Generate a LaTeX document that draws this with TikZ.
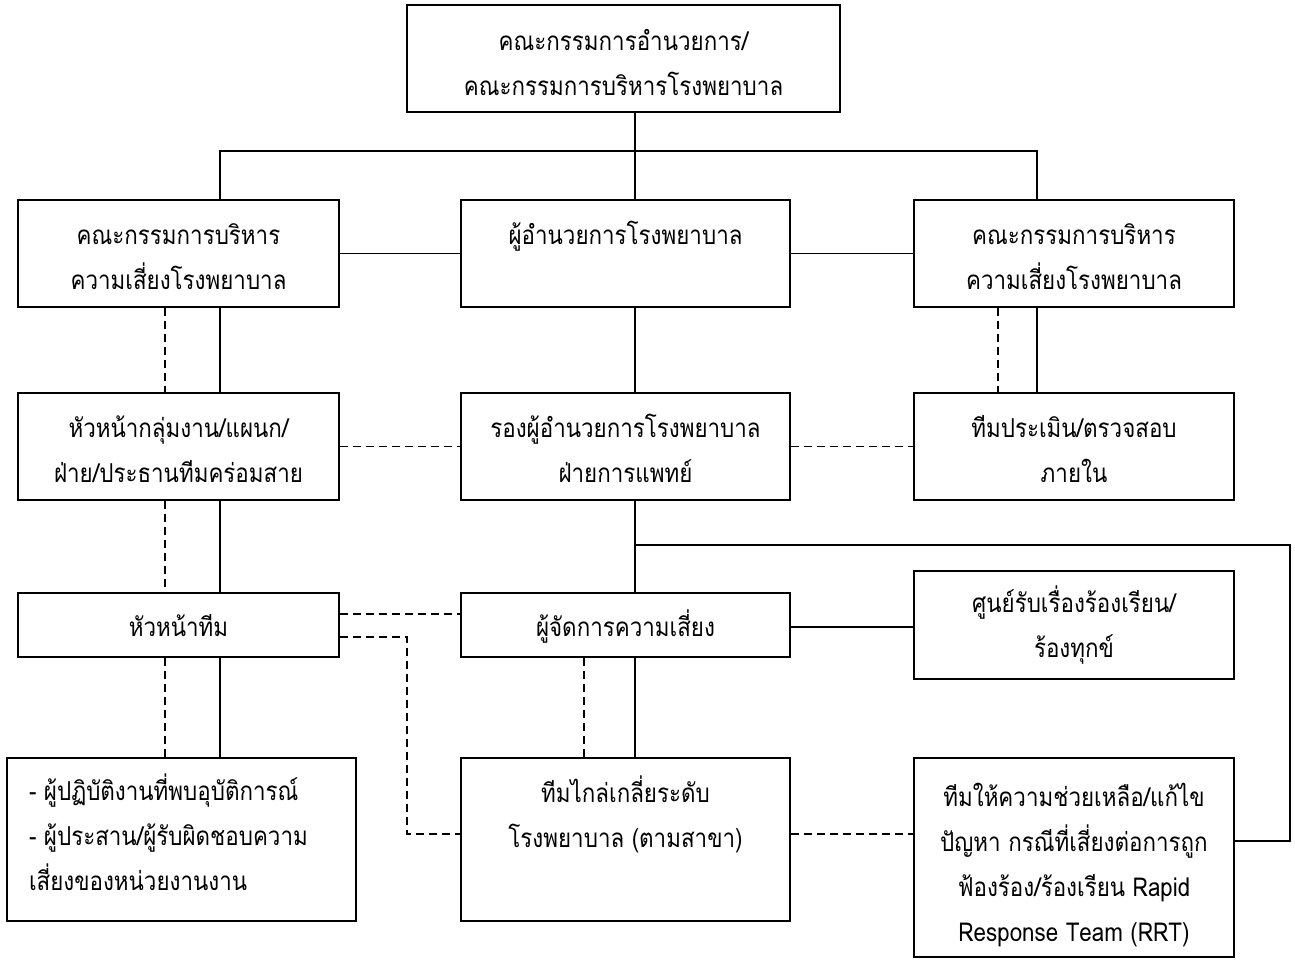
\documentclass[tikz,border=0pt]{standalone}
\usepackage{fontspec}
\newfontfamily\thaifont[Script=Thai, FakeStretch=0.86]{Loma}
\newcommand\tb[5]{\parbox[c][#1][t]{#2}{#3\rule{0pt}{#4}#5}}
\newcommand\lft{\raggedright\leftskip=22pt\relax}
\begin{document}
\begin{tikzpicture}[x=1pt,y=-1pt,
  box/.style={draw, line width=1.7pt, inner sep=0pt,
    font=\thaifont\fontsize{26}{45}\selectfont},
  conn/.style={line width=1.7pt},
  dashline/.style={line width=1.6pt, dash pattern=on 8pt off 5pt}]
\useasboundingbox (0,0) rectangle (1295,959);

\node[box] (top) at (623.5,58.5)
  {\tb{107pt}{433pt}{\centering}{45pt}{\smash{คณะกรรมการอำนวยการ/}\\\smash{คณะกรรมการบริหารโรงพยาบาล}}};
\node[box] (L2) at (178.5,253.5)
  {\tb{107pt}{321pt}{\centering}{44pt}{\smash{คณะกรรมการบริหาร}\\\smash{ความเสี่ยงโรงพยาบาล}}};
\node[box] (M2) at (625.5,253.5)
  {\tb{107pt}{329pt}{\centering}{44pt}{\smash{ผู้อำนวยการโรงพยาบาล}}};
\node[box] (R2) at (1074,253.5)
  {\tb{107pt}{320pt}{\centering}{44pt}{\smash{คณะกรรมการบริหาร}\\\smash{ความเสี่ยงโรงพยาบาล}}};
\node[box] (L3) at (178.5,446.5)
  {\tb{107pt}{321pt}{\centering}{44pt}{\smash{หัวหน้ากลุ่มงาน/แผนก/}\\\smash{ฝ่าย/ประธานทีมคร่อมสาย}}};
\node[box] (M3) at (625.5,446.5)
  {\tb{107pt}{329pt}{\centering}{44pt}{\smash{รองผู้อำนวยการโรงพยาบาล}\\\smash{ฝ่ายการแพทย์}}};
\node[box] (R3) at (1074,446.5)
  {\tb{107pt}{320pt}{\centering}{44pt}{\smash{ทีมประเมิน/ตรวจสอบ}\\\smash{ภายใน}}};
\node[box] (L4) at (178.5,625)
  {\tb{64pt}{321pt}{\centering}{43pt}{\smash{หัวหน้าทีม}}};
\node[box] (M4) at (625.5,625)
  {\tb{64pt}{329pt}{\centering}{43pt}{\smash{ผู้จัดการความเสี่ยง}}};
\node[box] (R4) at (1074,625)
  {\tb{108pt}{320pt}{\centering}{41pt}{\smash{ศูนย์รับเรื่องร้องเรียน/}\\\smash{ร้องทุกข์}}};
\node[box] (L5) at (181.5,839.5)
  {\tb{163pt}{349pt}{\lft}{42pt}{\smash{- ผู้ปฏิบัติงานที่พบอุบัติการณ์}\\\smash{- ผู้ประสาน/ผู้รับผิดชอบความ}\\\smash{เสี่ยงของหน่วยงานงาน}}};
\node[box] (M5) at (625.5,839.5)
  {\tb{163pt}{329pt}{\centering}{44pt}{\smash{ทีมไกล่เกลี่ยระดับ}\\\smash{โรงพยาบาล (ตามสาขา)}}};
\node[box] (R5) at (1074,857.5)
  {\tb{199pt}{320pt}{\centering}{48pt}{\smash{ทีมให้ความช่วยเหลือ/แก้ไข}\\\smash{ปัญหา กรณีที่เสี่ยงต่อการถูก}\\\smash{ฟ้องร้อง/ร้องเรียน Rapid}\\\smash{Response Team (RRT)}}};

\coordinate (xa) at (220,0);
\coordinate (xad) at (165,0);
\coordinate (xm) at (635,0);
\coordinate (xmd) at (584,0);
\coordinate (xr) at (1037,0);
\coordinate (xrd) at (998,0);
\coordinate (xe) at (407,0);
\coordinate (xo) at (1290,0);
\coordinate (yh) at (0,151);
\coordinate (yb) at (0,545);
\coordinate (yd1) at (0,614);
\coordinate (yd2) at (0,637);
\coordinate (ys4) at (0,627);
\coordinate (yd5) at (0,834);
\coordinate (ys5) at (0,841);

% top level
\draw[conn] (top.south -| xm) -- (M2.north -| xm);
\draw[conn] (L2.north -| xa) |- (yh -| xr) -- (R2.north -| xr);
\draw[conn] (L2.east) -- (M2.west);
\draw[conn] (M2.east) -- (R2.west);
% left column
\draw[conn] (L2.south -| xa) -- (L3.north -| xa);
\draw[dashline] (L2.south -| xad) -- (L3.north -| xad);
\draw[conn] (L3.south -| xa) -- (L4.north -| xa);
\draw[dashline] (L3.south -| xad) -- (L4.north -| xad);
\draw[conn] (L4.south -| xa) -- (L5.north -| xa);
\draw[dashline] (L4.south -| xad) -- (L5.north -| xad);
% middle column
\draw[conn] (M2.south -| xm) -- (M3.north -| xm);
\draw[conn] (M3.south -| xm) -- (M4.north -| xm);
\draw[conn] (M4.south -| xm) -- (M5.north -| xm);
\draw[dashline] (M4.south -| xmd) -- (M5.north -| xmd);
% right column
\draw[conn] (R2.south -| xr) -- (R3.north -| xr);
\draw[dashline] (R2.south -| xrd) -- (R3.north -| xrd);
% row 3
\draw[dashline] (L3.east) -- (M3.west);
\draw[dashline] (M3.east) -- (R3.west);
% row 4
\draw[dashline] (L4.east |- yd1) -- (M4.west |- yd1);
\draw[conn] (M4.east |- ys4) -- (R4.west |- ys4);
\draw[dashline] (L4.east |- yd2) -| (xe |- yd5) -- (M5.west |- yd5);
% row 5
\draw[dashline] (M5.east |- yd5) -- (R5.west |- yd5);
% branch to RRT
\draw[conn] (xm |- yb) -- (xo |- yb) |- (R5.east |- ys5);
\end{tikzpicture}
\end{document}
